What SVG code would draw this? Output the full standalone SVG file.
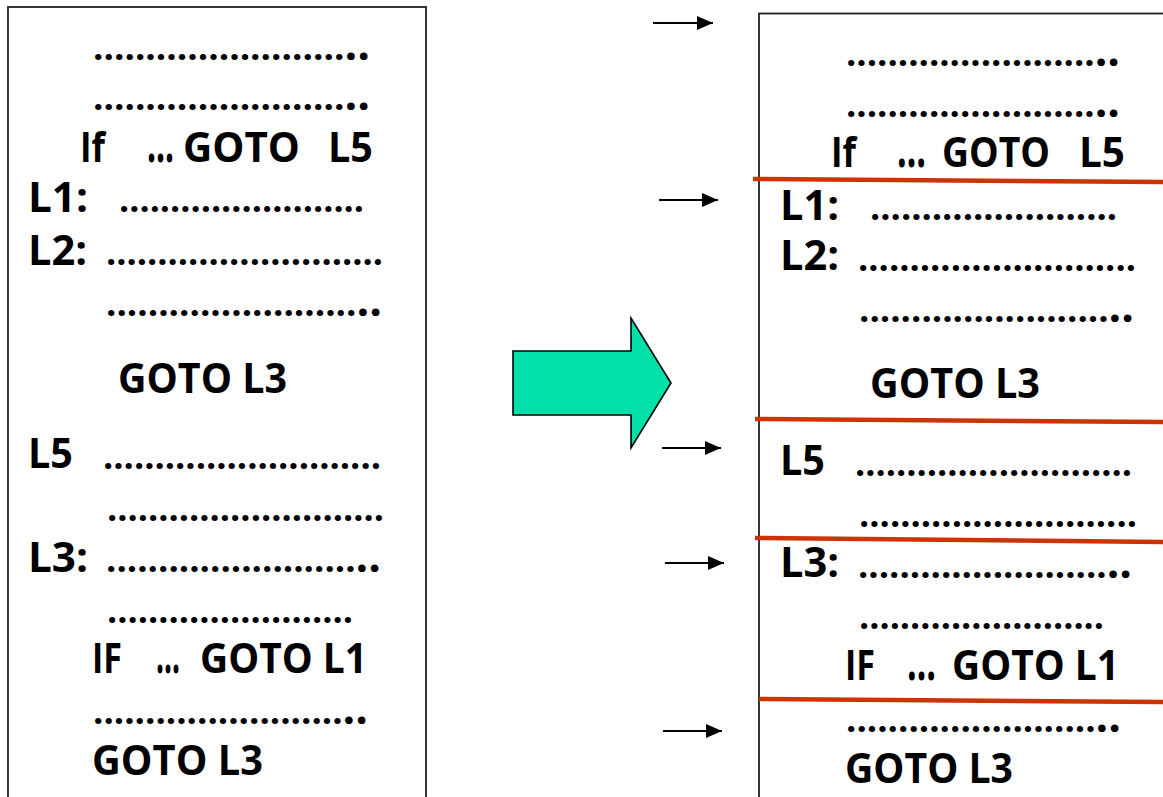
<svg xmlns="http://www.w3.org/2000/svg" width="1163" height="797" viewBox="0 0 1163 797">
  <style>
    .t { font-family: "Open Sans", "DejaVu Sans", sans-serif; font-weight: 700; font-size: 42px; fill: #000; }
    .d { font-size: 36px; }
    .p { font-size: 44px; }
    .e { font-size: 54px; }
    .box { fill: #fff; stroke: #222; stroke-width: 1.8; }
    .cut { stroke: #CC3300; stroke-width: 4.5; fill: none; }
    .link { stroke: #000; stroke-width: 2; fill: none; marker-end: url(#head); }
  </style>
  <defs>
    <marker id="head" viewBox="0 0 16 14" refX="16" refY="7" markerWidth="16" markerHeight="14" markerUnits="userSpaceOnUse" orient="auto">
      <path d="M0,0 L16,7 L0,14 Z" fill="#000"/>
    </marker>
  </defs>

  <rect width="1163" height="797" fill="#fff"/>

  <!-- original program -->
  <g id="source-code">
    <rect class="box" x="8" y="7" width="418" height="810"/>
    <text class="t" x="93" y="60" textLength="277" lengthAdjust="spacingAndGlyphs"><tspan class="d">........................</tspan><tspan class="p">..</tspan></text>
    <text class="t" x="93" y="110" textLength="277" lengthAdjust="spacingAndGlyphs"><tspan class="d">........................</tspan><tspan class="p">..</tspan></text>
    <text class="t" x="80" y="162" textLength="25" lengthAdjust="spacingAndGlyphs">If</text>
    <text class="t e" x="147" y="162" textLength="27" lengthAdjust="spacingAndGlyphs">…</text>
    <text class="t" x="183" y="162" textLength="117" lengthAdjust="spacingAndGlyphs">GOTO</text>
    <text class="t" x="328" y="162" textLength="45" lengthAdjust="spacingAndGlyphs">L5</text>
    <text class="t" x="28" y="212" textLength="60" lengthAdjust="spacingAndGlyphs">L1:</text>
    <text class="t d" x="119" y="212" textLength="245" lengthAdjust="spacingAndGlyphs">........................</text>
    <text class="t" x="28" y="265" textLength="59" lengthAdjust="spacingAndGlyphs">L2:</text>
    <text class="t d" x="106" y="265" textLength="277" lengthAdjust="spacingAndGlyphs">...........................</text>
    <text class="t" x="106" y="316" textLength="276" lengthAdjust="spacingAndGlyphs"><tspan class="d">........................</tspan><tspan class="p">..</tspan></text>
    <text class="t" x="118" y="393" textLength="169" lengthAdjust="spacingAndGlyphs">GOTO L3</text>
    <text class="t" x="28" y="468" textLength="45" lengthAdjust="spacingAndGlyphs">L5</text>
    <text class="t d" x="103" y="469" textLength="278" lengthAdjust="spacingAndGlyphs">...........................</text>
    <text class="t d" x="107" y="521" textLength="277" lengthAdjust="spacingAndGlyphs">...........................</text>
    <text class="t" x="28" y="572" textLength="60" lengthAdjust="spacingAndGlyphs">L3:</text>
    <text class="t" x="106" y="572" textLength="275" lengthAdjust="spacingAndGlyphs"><tspan class="d">........................</tspan><tspan class="p">..</tspan></text>
    <text class="t d" x="107" y="623" textLength="246" lengthAdjust="spacingAndGlyphs">........................</text>
    <text class="t" x="92" y="673" textLength="30" lengthAdjust="spacingAndGlyphs">IF</text>
    <text class="t e" x="156" y="673" textLength="24" lengthAdjust="spacingAndGlyphs">…</text>
    <text class="t" x="200" y="673" textLength="167" lengthAdjust="spacingAndGlyphs">GOTO L1</text>
    <text class="t" x="93" y="724" textLength="275" lengthAdjust="spacingAndGlyphs"><tspan class="d">........................</tspan><tspan class="p">..</tspan></text>
    <text class="t" x="92" y="775" textLength="171" lengthAdjust="spacingAndGlyphs">GOTO L3</text>
  </g>

  <!-- transformation arrow -->
  <g id="transform-arrow">
    <path d="M513,351 L631,351 L631,318 L671,383 L631,448 L631,415 L513,415 Z" fill="#00E0A8" stroke="#000" stroke-width="1.6" stroke-linejoin="miter"/>
  </g>

  <!-- program split into basic blocks -->
  <g id="basic-blocks">
    <rect class="box" x="759" y="13.5" width="420" height="810"/>
    <text class="t" x="846" y="66" textLength="274" lengthAdjust="spacingAndGlyphs"><tspan class="d">........................</tspan><tspan class="p">..</tspan></text>
    <text class="t" x="846" y="117" textLength="274" lengthAdjust="spacingAndGlyphs"><tspan class="d">........................</tspan><tspan class="p">..</tspan></text>
    <text class="t" x="831" y="167" textLength="25" lengthAdjust="spacingAndGlyphs">If</text>
    <text class="t e" x="897" y="167" textLength="29" lengthAdjust="spacingAndGlyphs">…</text>
    <text class="t" x="942" y="167" textLength="108" lengthAdjust="spacingAndGlyphs">GOTO</text>
    <text class="t" x="1079" y="167" textLength="46" lengthAdjust="spacingAndGlyphs">L5</text>
    <text class="t" x="780" y="220" textLength="59" lengthAdjust="spacingAndGlyphs">L1:</text>
    <text class="t d" x="870" y="220" textLength="247" lengthAdjust="spacingAndGlyphs">........................</text>
    <text class="t" x="780" y="270" textLength="59" lengthAdjust="spacingAndGlyphs">L2:</text>
    <text class="t d" x="858" y="271" textLength="278" lengthAdjust="spacingAndGlyphs">...........................</text>
    <text class="t" x="859" y="322" textLength="275" lengthAdjust="spacingAndGlyphs"><tspan class="d">........................</tspan><tspan class="p">..</tspan></text>
    <text class="t" x="870" y="398" textLength="170" lengthAdjust="spacingAndGlyphs">GOTO L3</text>
    <text class="t" x="780" y="475" textLength="45" lengthAdjust="spacingAndGlyphs">L5</text>
    <text class="t d" x="855" y="476" textLength="277" lengthAdjust="spacingAndGlyphs">...........................</text>
    <text class="t d" x="859" y="527" textLength="278" lengthAdjust="spacingAndGlyphs">...........................</text>
    <text class="t" x="780" y="577" textLength="59" lengthAdjust="spacingAndGlyphs">L3:</text>
    <text class="t" x="858" y="578" textLength="274" lengthAdjust="spacingAndGlyphs"><tspan class="d">........................</tspan><tspan class="p">..</tspan></text>
    <text class="t d" x="859" y="629" textLength="245" lengthAdjust="spacingAndGlyphs">........................</text>
    <text class="t" x="845" y="680" textLength="30" lengthAdjust="spacingAndGlyphs">IF</text>
    <text class="t e" x="907" y="680" textLength="29" lengthAdjust="spacingAndGlyphs">…</text>
    <text class="t" x="952" y="680" textLength="167" lengthAdjust="spacingAndGlyphs">GOTO L1</text>
    <text class="t" x="846" y="732" textLength="275" lengthAdjust="spacingAndGlyphs"><tspan class="d">........................</tspan><tspan class="p">..</tspan></text>
    <text class="t" x="845" y="783" textLength="168" lengthAdjust="spacingAndGlyphs">GOTO L3</text>
  </g>

  <!-- block boundaries -->
  <g id="block-boundaries">
    <line class="cut" x1="753" y1="179" x2="1163" y2="182"/>
    <line class="cut" x1="755" y1="419" x2="1163" y2="422"/>
    <line class="cut" x1="755" y1="538" x2="1163" y2="542"/>
    <line class="cut" x1="759" y1="699" x2="1163" y2="702"/>
  </g>

  <!-- leader arrows marking block entries -->
  <g id="connectors">
    <line class="link" x1="653" y1="23" x2="713" y2="23"/>
    <line class="link" x1="659" y1="200" x2="718" y2="200"/>
    <line class="link" x1="662" y1="448" x2="721" y2="448"/>
    <line class="link" x1="665" y1="563" x2="724" y2="563"/>
    <line class="link" x1="663" y1="731" x2="722" y2="731"/>
  </g>
</svg>
